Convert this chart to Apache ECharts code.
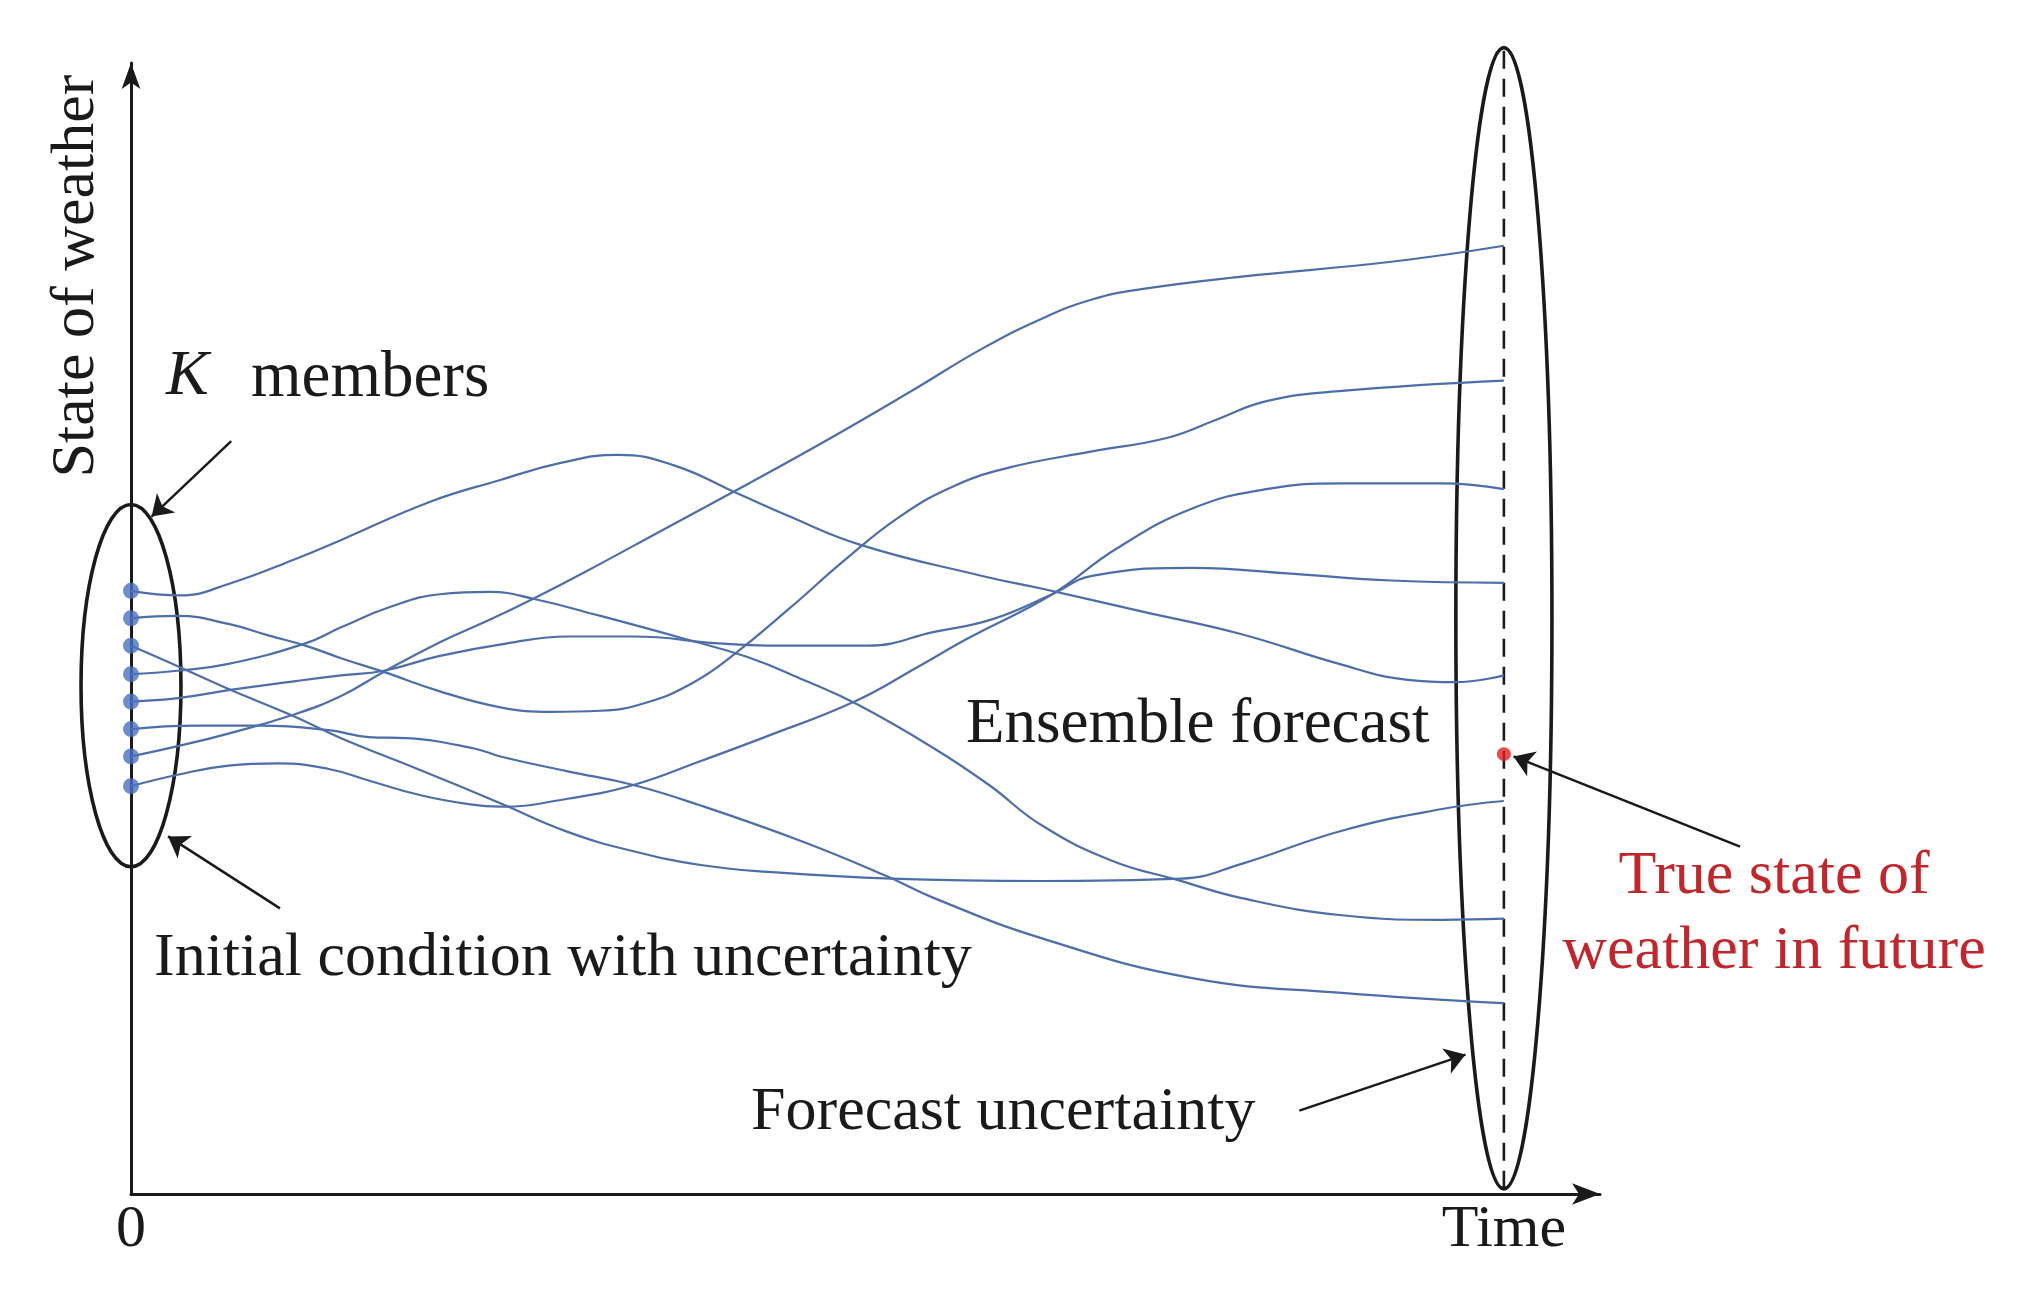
<!DOCTYPE html>
<html>
<head>
<meta charset="utf-8">
<script src="https://cdn.jsdelivr.net/npm/echarts@6/dist/echarts.min.js"></script>
<style>
html, body { margin: 0; padding: 0; background: #ffffff; }
#chart { width: 2028px; height: 1304px; }
</style>
</head>
<body>
<div id="chart"></div>
<script>
// ---- Data (time: 0 = initial, 100 = forecast time; state of weather in arbitrary units) ----
const memberA = [[0,52.8],[3.6,52.4],[7.1,53.4],[11.8,55.5],[15.4,57.3],[21.8,60.6],[26.9,62.5],[31.3,64.0],[35.5,64.7],[39.5,63.8],[44.4,61.2],[47.6,59.5],[53.2,56.8],[62.0,54.1],[66.3,53.0],[73.6,51.0],[80.9,49.0],[88.0,46.4],[93.0,45.0],[96.5,44.8],[100,45.4]];
const memberB = [[0,50.4],[3.4,50.6],[7.1,49.9],[10.0,48.9],[12.7,48.0],[15.3,46.9],[18.4,45.7],[22.5,44.0],[26.9,42.6],[30.6,42.2],[34.2,42.3],[37.5,43.0],[41.0,44.8],[44.0,47.3],[48.0,51.3],[52.0,55.5],[56.0,59.3],[60.0,62.0],[64.0,63.6],[70.0,65.0],[75.5,66.2],[79.1,67.8],[82.7,69.4],[88.2,70.3],[100,71.2]];
const memberC = [[0,48.0],[3.4,46.2],[7.1,44.2],[11.7,41.9],[15.3,39.9],[21.1,37.1],[26.9,34.2],[31.8,31.7],[36.6,30.0],[41.5,28.8],[46.4,28.2],[55.4,27.6],[66.3,27.4],[76.5,27.6],[80.9,28.9],[88.2,31.8],[95.5,33.7],[100,34.4]];
const memberD = [[0,45.5],[3.4,45.8],[7.1,46.4],[12.7,48.2],[15.3,49.6],[18.9,51.4],[22.5,52.5],[26.2,52.7],[29.3,52.1],[34.2,50.6],[40.3,48.6],[44.9,47.0],[49.0,45.0],[53.0,42.8],[58.5,39.0],[62.5,35.8],[66.3,32.3],[71.4,29.2],[76.2,27.5],[80.9,25.9],[88.2,24.4],[95.5,24.0],[100,24.1]];
const memberE = [[0,43.1],[3.4,43.4],[7.1,44.1],[12.0,44.9],[15.3,45.4],[18.4,45.8],[22.5,47.1],[27.4,48.2],[31.8,48.8],[36.6,48.8],[42.8,48.2],[46.4,48.0],[53.7,48.0],[58.5,49.2],[62.7,50.3],[67.1,52.5],[70.0,54.1],[77.3,54.8],[84.5,54.3],[91.8,53.7],[100,53.5]];
const memberF = [[0,40.7],[4.7,41.0],[9.5,41.0],[14.4,40.6],[17.3,40.0],[20.1,39.9],[25.0,39.0],[26.9,38.3],[31.8,37.0],[36.6,35.8],[41.5,34.0],[48.8,30.9],[54.9,27.9],[58.5,25.9],[66.3,22.4],[77.3,18.9],[88.2,17.6],[100,16.7]];
const memberG = [[0,38.3],[3.4,39.2],[7.1,40.3],[11.7,41.9],[15.3,43.6],[18.4,45.7],[22.5,48.3],[26.2,50.3],[29.3,52.1],[33.0,54.4],[39.0,58.3],[45.0,62.2],[51.0,66.2],[57.0,70.4],[62.0,74.0],[66.3,76.6],[70.0,78.3],[73.6,79.2],[80.9,80.3],[91.8,81.6],[100,83.0]];
const memberH = [[0,35.7],[3.4,36.7],[7.1,37.5],[10.7,37.7],[14.4,37.2],[17.3,36.2],[21.1,34.9],[24.7,34.1],[26.9,33.9],[31.8,34.6],[36.6,35.8],[41.5,37.9],[46.4,40.1],[52.7,43.1],[57.4,46.2],[60.9,48.6],[67.1,52.5],[71.8,56.5],[77.3,60.0],[82.7,61.7],[88.2,62.2],[95.5,62.2],[100,61.7]];
const members = [memberA, memberB, memberC, memberD, memberE, memberF, memberG, memberH];

const trueState = [[100, 38.5]];
// ellipses: [centre time, centre state, half width (time), half height (state)]
const initialUncertainty = [[0, 44.5, 3.64, 15.86]];
const forecastUncertainty = [[100, 50.4, 3.5, 49.95]];
const forecastTimeLine = [[100, 0.45], [100, 100.35]];
// annotation arrows: [from, to] in (time, state)
const annotationArrows = [
  [[7.3, 65.9], [1.5, 59.3]],
  [[10.85, 25.0], [2.7, 31.3]],
  [[85.1, 7.3], [97.2, 12.2]],
  [[117.2, 30.4], [100.7, 38.3]]
];
const xTickLabels = { 0: '0', 100: 'Time' };

// ---- Chart ----
const FONT = '"Liberation Serif", "Times New Roman", "DejaVu Serif", serif';
const INK = '#1a1a1a';
const LINE_BLUE = '#4e6ea9';
const chart = echarts.init(document.getElementById('chart'));

const memberSeries = members.map((m, i) => ({
  type: 'line',
  name: 'member' + (i + 1),
  data: m,
  smooth: 0.45,
  showSymbol: false,
  clip: false,
  silent: true,
  z: 3,
  lineStyle: { color: LINE_BLUE, width: 2.2 }
}));

const ellipseRender = (params, api) => {
  const c = api.coord([api.value(0), api.value(1)]);
  const s = api.size([api.value(2), api.value(3)]);
  return {
    type: 'ellipse',
    shape: { cx: c[0], cy: c[1], rx: s[0], ry: s[1] },
    style: { fill: 'none', stroke: INK, lineWidth: 3.6 }
  };
};

const textStyle = (t, size, extra) => Object.assign({
  text: t, fontFamily: FONT, fontSize: size, fill: INK
}, extra || {});

const option = {
  animation: false,
  backgroundColor: '#ffffff',
  grid: { left: 131, right: 428, top: 63, bottom: 110 },
  xAxis: {
    type: 'value', min: 0, max: 107, interval: 100,
    axisLine: { show: true, symbol: ['none', 'arrow'], symbolSize: [16, 28], lineStyle: { color: INK, width: 3 } },
    axisTick: { show: false },
    splitLine: { show: false },
    axisLabel: {
      margin: 6, fontFamily: FONT, fontSize: 60, color: INK,
      formatter: v => (xTickLabels[v] !== undefined ? xTickLabels[v] : '')
    }
  },
  yAxis: {
    type: 'value', min: 0, max: 99,
    axisLine: { show: true, symbol: ['none', 'arrow'], symbolSize: [14, 26], lineStyle: { color: INK, width: 3 } },
    axisTick: { show: false },
    axisLabel: { show: false },
    splitLine: { show: false }
  },
  series: [
    {
      type: 'line', name: 'forecast time', data: forecastTimeLine, showSymbol: false, clip: false, silent: true, z: 2,
      lineStyle: { color: INK, width: 2.6, type: [18, 10] }
    },
    { type: 'custom', name: 'initial uncertainty', data: initialUncertainty, renderItem: ellipseRender, silent: true, z: 2 },
    { type: 'custom', name: 'forecast uncertainty', data: forecastUncertainty, renderItem: ellipseRender, silent: true, z: 2 },
    ...memberSeries,
    {
      type: 'scatter', name: 'initial members', data: members.map(m => m[0]), symbolSize: 16, clip: false, z: 5,
      itemStyle: { color: '#4a70bf' }
    },
    {
      type: 'scatter', name: 'true state', data: trueState, symbolSize: 14, clip: false, z: 5,
      itemStyle: { color: '#e0211f' }
    },
    {
      type: 'lines', name: 'annotations', coordinateSystem: 'cartesian2d', clip: false, silent: true, z: 6,
      symbol: ['none', 'arrow'], symbolSize: 20,
      lineStyle: { color: INK, width: 2.5, opacity: 1, curveness: 0 },
      data: annotationArrows.map(a => ({ coords: a }))
    }
  ],
  graphic: [
    { type: 'text', x: 77, y: 276, rotation: Math.PI / 2,
      style: textStyle('State of weather', 62, { align: 'center', verticalAlign: 'middle' }) },
    { type: 'text', x: 166, y: 377,
      style: textStyle('K', 64, { align: 'left', verticalAlign: 'middle', fontStyle: 'italic', fontWeight: 'lighter' }) },
    { type: 'text', x: 251, y: 379,
      style: textStyle('members', 65, { align: 'left', verticalAlign: 'middle' }) },
    { type: 'text', x: 154, y: 959,
      style: textStyle('Initial condition with uncertainty', 62, { align: 'left', verticalAlign: 'middle' }) },
    { type: 'text', x: 966, y: 725,
      style: textStyle('Ensemble forecast', 63, { align: 'left', verticalAlign: 'middle' }) },
    { type: 'text', x: 751, y: 1113,
      style: textStyle('Forecast uncertainty', 62, { align: 'left', verticalAlign: 'middle' }) },
    { type: 'text', x: 1774, y: 877,
      style: textStyle('True state of', 62, { align: 'center', verticalAlign: 'middle', fill: '#c0272d' }) },
    { type: 'text', x: 1774, y: 952,
      style: textStyle('weather in future', 62, { align: 'center', verticalAlign: 'middle', fill: '#c0272d' }) }
  ]
};
chart.setOption(option);
</script>
</body>
</html>
